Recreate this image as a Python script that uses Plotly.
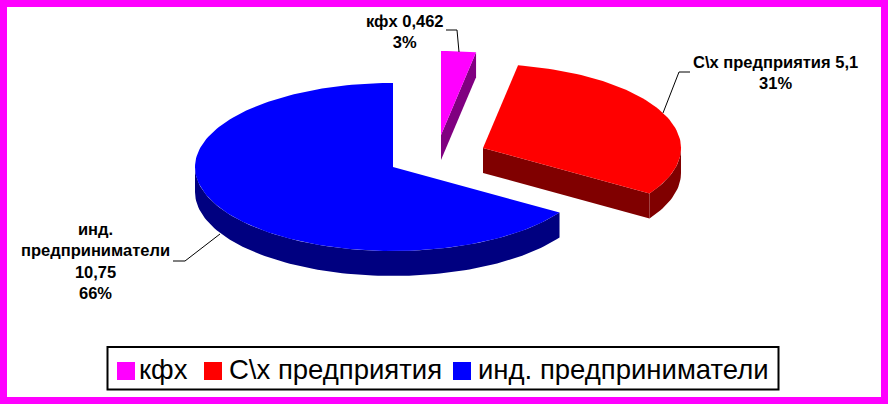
import numpy as np
import plotly.graph_objects as go

categories = ["кфх", "C\\x предприятия", "инд. предприниматели"]
values = [0.462, 5.1, 10.75]
value_labels = ["0,462", "5,1", "10,75"]
percent_labels = ["3%", "31%", "66%"]

top_colors = ["#ff00ff", "#ff0000", "#0000ff"]
side_colors = ["#800080", "#800000", "#000080"]
apex_px = [(441, 135), (483, 148), (393, 167)]
RX, RY, DEPTH = 198, 84, 25
FRAME = "#ff00ff"

W, H = 888, 404
fig = go.Figure()


def rim(cx, cy, a0, a1, dy=0):
    n = max(2, int((a1 - a0) / 1.5) + 1)
    t = np.radians(np.linspace(a0, a1, n))
    return cx + RX * np.sin(t), cy - RY * np.cos(t) + dy


def poly(x, y, color):
    fig.add_trace(go.Scatter(x=list(x), y=list(y), fill="toself", fillcolor=color,
                             mode="lines", line=dict(width=0, color=color),
                             hoverinfo="skip", showlegend=False))


total = sum(values)
start = 0.0
for i, v in enumerate(values):
    end = start + 360 * v / total
    cx, cy = apex_px[i]
    if 0 < end < 180:
        ex, ey = rim(cx, cy, end, end)
        poly([cx, ex[0], ex[0], cx], [cy, ey[0], ey[0] + DEPTH, cy + DEPTH], side_colors[i])
    w0, w1 = max(start, 90), min(end, 270)
    if w1 > w0:
        tx, ty = rim(cx, cy, w0, w1)
        bx, by = rim(cx, cy, w0, w1, DEPTH)
        poly(np.r_[tx, bx[::-1]], np.r_[ty, by[::-1]], side_colors[i])
    tx, ty = rim(cx, cy, start, end)
    poly(np.r_[cx, tx], np.r_[cy, ty], top_colors[i])
    start = end

for lx, ly in [([459, 457, 446], [52, 30, 30]),
               ([663, 679, 690], [113, 72, 72]),
               ([220, 185, 173], [234, 261, 261])]:
    fig.add_trace(go.Scatter(x=lx, y=ly, mode="lines", line=dict(color="black", width=1),
                             hoverinfo="skip", showlegend=False))

label_font = dict(family="Liberation Sans", size=16.5, color="black", weight="bold")
labels = [
    (405, 31, f"{categories[0]} {value_labels[0]}<br>{percent_labels[0]}"),
    (775, 72, f"{categories[1]} {value_labels[1]}<br>{percent_labels[1]}"),
    (95, 261, f"инд.<br>предприниматели<br>{value_labels[2]}<br>{percent_labels[2]}"),
]
annotations = [dict(x=x, y=y, xref="x", yref="y", text=t, showarrow=False,
                    font=label_font, align="center") for x, y, t in labels]

legend_font = dict(family="Liberation Sans", size=27.5, color="black")
swatch_x = [117, 204, 453]
text_x = [137, 227, 476]
shapes = [dict(type="rect", xref="x", yref="y", x0=3.5, y0=3.5, x1=W - 3.5, y1=H - 3.5,
               line=dict(color=FRAME, width=7), fillcolor="rgba(0,0,0,0)"),
          dict(type="rect", xref="x", yref="y", x0=107.5, y0=347, x1=778.5, y1=389.5,
               line=dict(color="black", width=2), fillcolor="white")]
for c, col, sx, tx_ in zip(categories, top_colors, swatch_x, text_x):
    shapes.append(dict(type="rect", xref="x", yref="y", x0=sx, y0=362, x1=sx + 18, y1=380,
                       line=dict(width=0), fillcolor=col))
    annotations.append(dict(x=tx_, y=369, xref="x", yref="y", text=c, showarrow=False,
                            xanchor="left", yanchor="middle", font=legend_font))

fig.update_layout(
    width=W, height=H, autosize=False,
    margin=dict(l=0, r=0, t=0, b=0),
    paper_bgcolor="white", plot_bgcolor="white",
    xaxis=dict(range=[0, W], visible=False, fixedrange=True),
    yaxis=dict(range=[H, 0], visible=False, fixedrange=True),
    annotations=annotations,
    shapes=shapes,
    showlegend=False,
    hovermode=False,
)
fig.write_html("out.html", config=dict(displayModeBar=False),
               post_script="document.body.style.margin='0';document.body.style.overflow='hidden';")
